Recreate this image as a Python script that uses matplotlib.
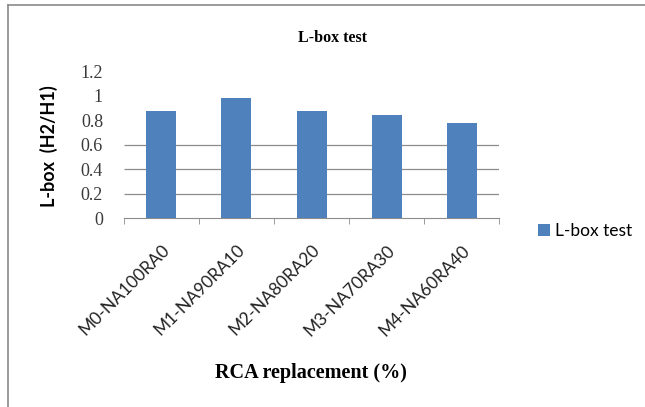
import numpy as np
import matplotlib
matplotlib.use('Agg')
import matplotlib.pyplot as plt
from matplotlib.lines import Line2D

# data
mixes=['M0-NA100RA0', 'M1-NA90RA10', 'M2-NA80RA20', 'M3-NA70RA30', 'M4-NA60RA40']
lbox=[0.88, 0.985, 0.88, 0.84, 0.78]
y_ticks=[0, 0.2, 0.4, 0.6, 0.8, 1, 1.2]
y_tick_labels=['0', '0.2', '0.4', '0.6', '0.8', '1', '1.2']
grid_levels=[0.2, 0.4, 0.6]

bar_color='#4F81BD'

fig=plt.figure(figsize=(6.45, 4.07), dpi=100)
ax=fig.add_axes([0.192, 0.4636, 0.582, 0.3612])

x=np.arange(len(mixes))
bars=ax.bar(x, lbox, width=0.4, color=bar_color, label='L-box test', zorder=3)

# only the lower grid lines show in the reference
ax.hlines(grid_levels, -0.5, len(mixes)-0.5, color='#8c8c8c', lw=0.9, zorder=1)

ax.set_xlim(-0.5, len(mixes)-0.5)
ax.set_ylim(0, 1.2)

for s in ['top', 'right', 'left']:
    ax.spines[s].set_visible(False)
ax.spines['bottom'].set_color('#8c8c8c')

ax.set_yticks(y_ticks)
ax.set_yticklabels(y_tick_labels, family='Liberation Serif', fontsize=13, color='#3a3a3a')
ax.tick_params(axis='y', length=0, pad=15)

# category labels at centres, tick marks at category boundaries
ax.set_xticks(x)
ax.set_xticklabels(mixes, rotation=45, ha='right', rotation_mode='anchor',
                   family='Lato', fontsize=12.5, color='#222222')
ax.tick_params(axis='x', which='major', length=0, pad=17)
ax.set_xticks(np.arange(len(mixes)+1)-0.5, minor=True)
ax.tick_params(axis='x', which='minor', length=4, color='#8c8c8c', direction='out')

fig.text(0.516, 0.906, 'L-box test', ha='center', va='center',
         family='Liberation Serif', fontweight='bold', fontsize=11.5)
fig.text(0.076, 0.64, 'L-box  (H2/H1)', rotation=90, ha='center', va='center',
         family='Lato', fontweight='bold', fontsize=13)
fig.text(0.482, 0.083, 'RCA replacement (%)', ha='center', va='center',
         family='Liberation Serif', fontweight='bold', fontsize=14.5)

fig.legend(handles=[bars], loc='center left', bbox_to_anchor=(0.81, 0.432),
           frameon=False, prop={'family': 'Lato', 'size': 12.5},
           handlelength=0.7, handleheight=0.7, handletextpad=0.3)

# gray frame of the chart area (left and top edges visible)
fig.add_artist(Line2D([8/645, 8/645], [0, 1-5/407], transform=fig.transFigure,
                      color='#8a8a8a', lw=1.2))
fig.add_artist(Line2D([8/645, 1], [1-5/407, 1-5/407], transform=fig.transFigure,
                      color='#8a8a8a', lw=1.2))

fig.savefig('out.png', dpi=100)
